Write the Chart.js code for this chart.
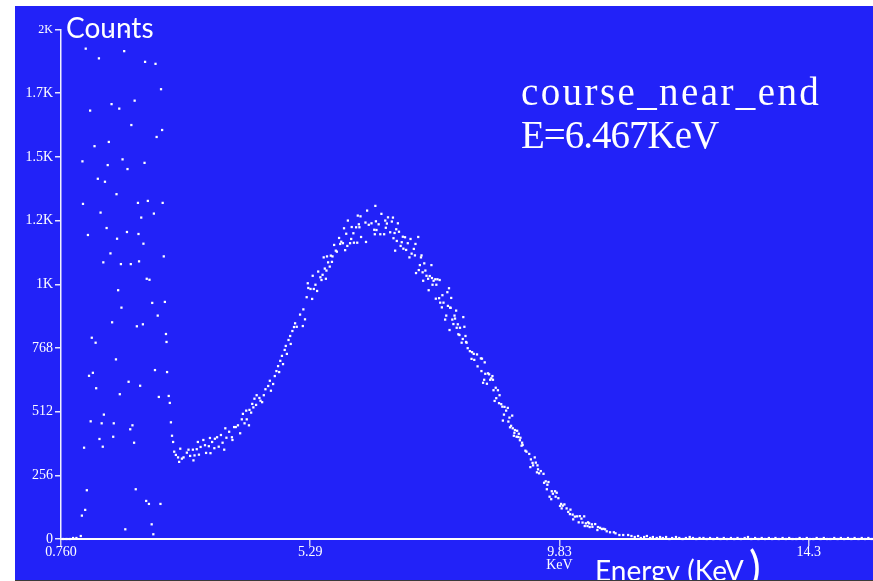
<!DOCTYPE html>
<html><head><meta charset="utf-8">
<script src="https://cdn.jsdelivr.net/npm/chart.js@4"></script>
<style>html,body{margin:0;padding:0;background:#fff;overflow:hidden}</style>
</head><body>
<canvas id="c" width="873" height="581" style="display:block;width:873px;height:581px"></canvas>
<script>
// ---- axis ticks ----
const xTickValues = [0.760, 5.295, 9.830, 14.365];
const xTickLabels = [['0.760'], ['5.29'], ['9.83', 'KeV'], ['14.3']];
const yTickValues = [0, 256, 512, 768, 1024, 1280, 1536, 1792, 2048];
const yTickLabels = ['0', '256', '512', '768', '1K', '1.2K', '1.5K', '1.7K', '2K'];

// ---- low-energy noisy region ----
const lowEnergyKeV = [0.80,0.86,0.92,0.98,1.04,1.12,1.14,1.15,1.16,1.18,1.20,1.21,1.23,1.25,1.27,1.29,1.30,1.32,1.34,1.37,1.39,1.40,1.43,1.45,1.46,1.48,1.50,1.52,1.53,1.54,1.56,1.59,1.61,1.63,1.65,1.66,1.68,1.69,1.71,1.72,1.76,1.77,1.78,1.80,1.82,1.83,1.85,1.86,1.88,1.91,1.93,1.94,1.96,1.97,1.99,2.02,2.03,2.04,2.06,2.09,2.10,2.12,2.14,2.16,2.17,2.18,2.20,2.22,2.25,2.26,2.28,2.29,2.31,2.32,2.34,2.36,2.37,2.41,2.42,2.44,2.45,2.47,2.48,2.50,2.52,2.54,2.57,2.58,2.60,2.61,2.63,2.65,2.67,2.68,2.69,2.72,2.74,2.76,2.78,2.80];
const lowEnergyCounts = [0,0,0,4,4,12,94,1518,1347,367,117,1971,196,1222,656,1722,473,809,668,1579,789,606,1448,1932,402,1312,465,371,1112,500,1436,1250,1503,1596,2040,1148,1748,871,411,465,722,1386,1207,1000,1730,582,1105,930,1526,1961,39,2040,1234,1487,632,441,1105,1664,457,387,1762,200,855,1351,1226,1116,616,1292,863,1187,1512,1918,153,1046,1359,141,1042,59,949,19,1308,679,1910,1616,898,571,141,1808,1644,1351,1136,953,824,792,671,575,547,469,415,390];

// ---- main peak ----
const peakKeV = [2.82,2.85,2.89,2.91,2.93,2.96,2.99,3.05,3.08,3.11,3.16,3.17,3.19,3.23,3.25,3.27,3.30,3.35,3.38,3.40,3.45,3.47,3.48,3.51,3.55,3.56,3.60,3.63,3.67,3.70,3.73,3.75,3.77,3.82,3.87,3.88,3.91,3.94,3.98,4.02,4.05,4.07,4.10,4.13,4.14,4.18,4.19,4.22,4.24,4.26,4.28,4.31,4.32,4.37,4.39,4.42,4.45,4.48,4.53,4.56,4.58,4.62,4.65,4.68,4.71,4.73,4.75,4.78,4.80,4.83,4.85,4.87,4.90,4.93,4.94,4.97,5.00,5.02,5.05,5.11,5.16,5.17,5.20,5.23,5.25,5.26,5.30,5.33,5.34,5.36,5.39,5.42,5.44,5.48,5.50,5.52,5.54,5.56,5.58,5.59,5.60,5.62,5.65,5.67,5.69,5.70,5.73,5.76,5.78,5.82,5.84,5.86,5.89,5.91,5.93,5.95,5.97,5.98,6.02,6.04,6.05,6.08,6.09,6.13,6.15,6.16,6.18,6.19,6.21,6.22,6.30,6.31,6.33,6.36,6.41,6.46,6.47,6.48,6.49,6.50,6.54,6.57,6.59,6.64,6.66,6.67,6.69,6.71,6.75,6.78,6.80,6.81,6.83,6.84,6.86,6.87,6.89,6.91,6.94,6.96,6.98,6.99,7.02,7.04,7.07,7.10,7.12,7.14,7.18,7.20,7.21,7.22,7.26,7.27,7.29,7.31,7.32,7.34,7.35,7.37,7.39,7.41,7.44,7.45,7.47,7.50,7.51,7.52,7.54,7.57,7.58,7.59,7.61,7.64,7.65,7.66,7.69,7.70,7.72,7.75,7.77,7.79,7.80,7.82,7.83,7.84,7.85,7.86,7.88,7.90,7.92,7.93,7.95,7.96,7.98,7.99,8.01,8.02,8.05,8.07,8.08,8.10,8.12,8.13,8.14,8.16,8.20,8.23,8.24,8.27,8.28,8.33,8.34,8.40,8.41,8.42,8.44,8.46,8.47,8.48,8.51,8.53,8.55,8.57,8.59,8.61,8.62,8.63,8.65,8.67,8.68,8.71,8.73,8.74,8.77,8.79,8.80,8.82,8.83,8.86,8.89,8.90,8.92,8.93,8.95,8.97,8.98,9.00,9.01,9.02,9.05,9.06,9.08,9.09,9.11,9.12,9.14,9.15,9.16,9.21,9.23,9.28,9.30,9.31,9.34,9.35,9.38,9.40,9.42,9.43,9.44,9.46,9.49,9.54,9.55,9.58,9.60,9.61,9.63,9.65,9.68,9.69,9.71,9.75,9.76,9.78,9.81,9.84,9.86,9.87,9.89,9.92,9.96,9.99,10.02,10.03,10.07,10.08,10.11,10.15,10.18,10.20,10.23,10.25,10.28,10.29,10.31,10.34,10.35,10.37,10.38,10.42,10.43,10.48,10.52,10.53,10.57,10.60,10.63,10.66,10.69,10.75,10.82,10.85,10.92,10.99,11.08,11.14];
const peakCounts = [351,338,328,310,363,323,328,347,359,334,359,316,336,361,390,339,370,398,377,346,373,406,345,390,365,403,409,371,418,387,359,445,407,431,409,398,450,450,457,425,481,503,465,516,481,457,519,508,543,529,564,539,578,567,556,550,578,602,615,636,596,623,655,675,695,671,716,736,703,760,776,744,800,816,784,836,852,867,853,902,856,923,883,972,1028,1009,1005,965,1058,1005,1022,997,1075,1052,1041,1062,1132,1087,1046,1079,1136,1112,1095,1139,1114,1136,1182,1159,1155,1210,1186,1195,1189,1249,1161,1227,1178,1280,1189,1206,1254,1229,1191,1253,1191,1300,1265,1253,1297,1214,1272,1194,1320,1263,1269,1243,1225,1339,1277,1242,1265,1225,1307,1225,1280,1251,1268,1293,1233,1276,1292,1209,1230,1159,1245,1198,1269,1235,1178,1193,1215,1167,1213,1162,1189,1132,1206,1147,1166,1140,1186,1069,1214,1081,1101,1132,1140,1072,1038,1108,1079,1058,1046,1000,1057,1101,1049,1022,1038,1044,966,1022,1044,968,1041,950,931,980,950,882,898,992,937,1008,840,930,929,969,882,864,898,886,918,849,863,823,820,849,789,804,892,853,816,792,789,767,755,724,751,744,720,742,694,726,675,725,628,640,710,664,624,666,662,640,646,655,640,598,555,608,566,598,546,578,542,532,476,500,531,516,527,472,488,449,455,496,445,415,427,438,411,435,410,423,397,407,375,387,378,355,351,342,289,320,306,296,328,307,268,296,280,264,273,262,226,232,200,218,229,170,160,192,182,192,170,186,164,133,141,123,134,139,123,109,100,118,98,79,90,91,67,92,82,66,91,52,63,52,67,63,48,59,49,60,36,48,45,40,41,39,31,27,27,23,16,16,16,12];

// ---- high-energy tail ----
const tailKeV = [11.20,11.26,11.31,11.37,11.42,11.48,11.53,11.60,11.66,11.71,11.77,11.83,11.88,11.95,12.01,12.07,12.13,12.20,12.26,12.32,12.38,12.45,12.51,12.57,12.63,12.70,12.76,12.82,12.88,12.95,13.01,13.07,13.13,13.20,13.26,13.32,13.39,13.45,13.51,13.57,13.64,13.70,13.76,13.82,13.89,13.95,14.01,14.07,14.14,14.20,14.26,14.33,14.39,14.45,14.51,14.58,14.64,14.70,14.76,14.83,14.89,14.95,15.01,15.08,15.14,15.20,15.27,15.33,15.39,15.45,15.51];
const tailCounts = [8,12,4,8,12,4,8,4,8,4,8,0,4,8,4,0,4,8,4,0,4,4,0,4,0,4,0,4,0,4,0,4,0,4,8,0,4,0,4,0,4,0,4,0,4,0,4,0,0,4,0,4,0,0,4,0,4,0,0,4,0,4,0,4,0,4,0,4,0,4,0];

const BG = '#2222f8';
const toPts = (xs, ys) => xs.map((x, i) => ({x: x, y: ys[i]}));
const allPoints = toPts(lowEnergyKeV, lowEnergyCounts)
  .concat(toPts(peakKeV, peakCounts))
  .concat(toPts(tailKeV, tailCounts));

const frame = {
  id: 'frame',
  beforeDraw(chart) {
    const c = chart.ctx;
    c.save();
    c.fillStyle = '#ffffff'; c.fillRect(0, 0, 873, 581);
    c.fillStyle = BG; c.fillRect(15, 6, 858, 575);
    c.fillStyle = '#3a3a3a'; c.fillRect(15, 580, 858, 1);
    c.restore();
  },
  afterDraw(chart) {
    const c = chart.ctx;
    c.save();
    c.fillStyle = '#ffffff';
    c.textBaseline = 'alphabetic';
    c.textAlign = 'left';
    c.font = '28px Lato';
    c.fillText('Counts', 66, 37.5);
    c.fillText('Energy (KeV', 595, 581);
    c.font = '44px Lato';
    c.fillText(')', 749, 583);
    c.font = '39px "Liberation Serif"';
    c.letterSpacing = '2.4px';
    c.fillText('course_near_end', 521, 105);
    c.letterSpacing = '-1px';
    c.fillText('E=6.467KeV', 521, 147.5);
    c.letterSpacing = '0px';
    c.fillStyle = '#3a3a3a'; c.fillRect(15, 580, 858, 1);
    c.restore();
  }
};

new Chart(document.getElementById('c'), {
  type: 'scatter',
  data: { datasets: [{
    data: allPoints,
    pointStyle: 'rect',
    pointRadius: 1.6,
    pointHoverRadius: 1.6,
    pointBorderWidth: 0,
    backgroundColor: '#ffffff',
    borderColor: '#ffffff',
    clip: false
  }]},
  options: {
    responsive: false,
    animation: false,
    devicePixelRatio: 1,
    events: [],
    layout: { autoPadding: false, padding: { left: 15, top: 29.5, right: 0, bottom: 0 } },
    plugins: { legend: { display: false }, tooltip: { enabled: false } },
    scales: {
      x: {
        type: 'linear', min: 0.76, max: 15.535,
        afterFit(s) { s.height = 42; },
        afterBuildTicks(s) { s.ticks = xTickValues.map(v => ({ value: v })); },
        grid: { drawOnChartArea: false, drawTicks: true, tickLength: 7, color: '#c8c8f4', lineWidth: 1.5 },
        border: { display: true, color: '#ffffff', width: 2 },
        ticks: {
          padding: 0, color: '#ffffff', maxRotation: 0, autoSkip: false,
          font: { family: '"Liberation Serif"', size: 14, lineHeight: 0.9 },
          callback: (v, i) => xTickLabels[i]
        }
      },
      y: {
        type: 'linear', min: 0, max: 2048,
        afterFit(s) { s.width = 46; },
        afterBuildTicks(s) { s.ticks = yTickValues.map(v => ({ value: v })); },
        grid: { drawOnChartArea: false, drawTicks: true, tickLength: 6, color: '#e8e8ff', lineWidth: 1.5 },
        border: { display: true, color: '#f0f0ff', width: 1.5 },
        ticks: {
          padding: 2, color: '#ffffff', autoSkip: false,
          font: (ctx) => ({ family: '"Liberation Serif"', size: (ctx.tick && ctx.tick.value === 2048) ? 12 : 14 }),
          callback: (v, i) => yTickLabels[i]
        }
      }
    }
  },
  plugins: [frame]
});
</script>
</body></html>
